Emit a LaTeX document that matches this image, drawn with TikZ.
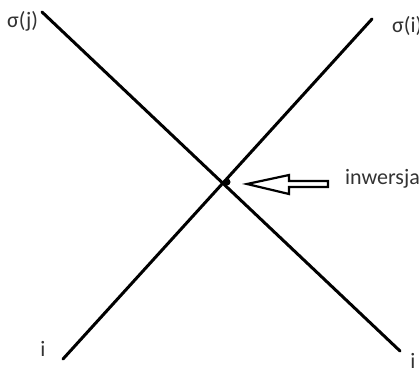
\documentclass[tikz,border=0pt]{standalone}
\usepackage{fontspec}
\setmainfont{Carlito}
\begin{document}
\begin{tikzpicture}[x=1pt,y=-1pt,
  lbl/.style={inner sep=0pt,font=\fontsize{22}{22}\selectfont,text=black!80},
  ln/.style={line width=3pt,line cap=round}]
\useasboundingbox (0,0) rectangle (419,369);
\clip (0,0) rectangle (419,369);
\coordinate (a1) at (42,12);
\coordinate (a2) at (400,351);
\coordinate (b1) at (63,359);
\coordinate (b2) at (372,19);
\draw[ln] (a1) -- (a2);
\draw[ln] (b1) -- (b2);
\fill (227,182) circle (3.5);
\draw[line width=2.2pt,line join=miter]
  (247,184) -- (289,175) -- (289,181) -- (328,181) -- (328,187) -- (289,187) -- (289,194) -- cycle;
\node[lbl,anchor=west] (inv) at (345,179) {inwersja};
\node[lbl,anchor=west] (sj) at (7,21) {σ(j)};
\node[lbl,anchor=west] (si) at (392,26) {σ(i)};
\node[lbl] (il) at (43,349) {i};
\node[lbl] (ir) at (413,361) {i};
\end{tikzpicture}
\end{document}
